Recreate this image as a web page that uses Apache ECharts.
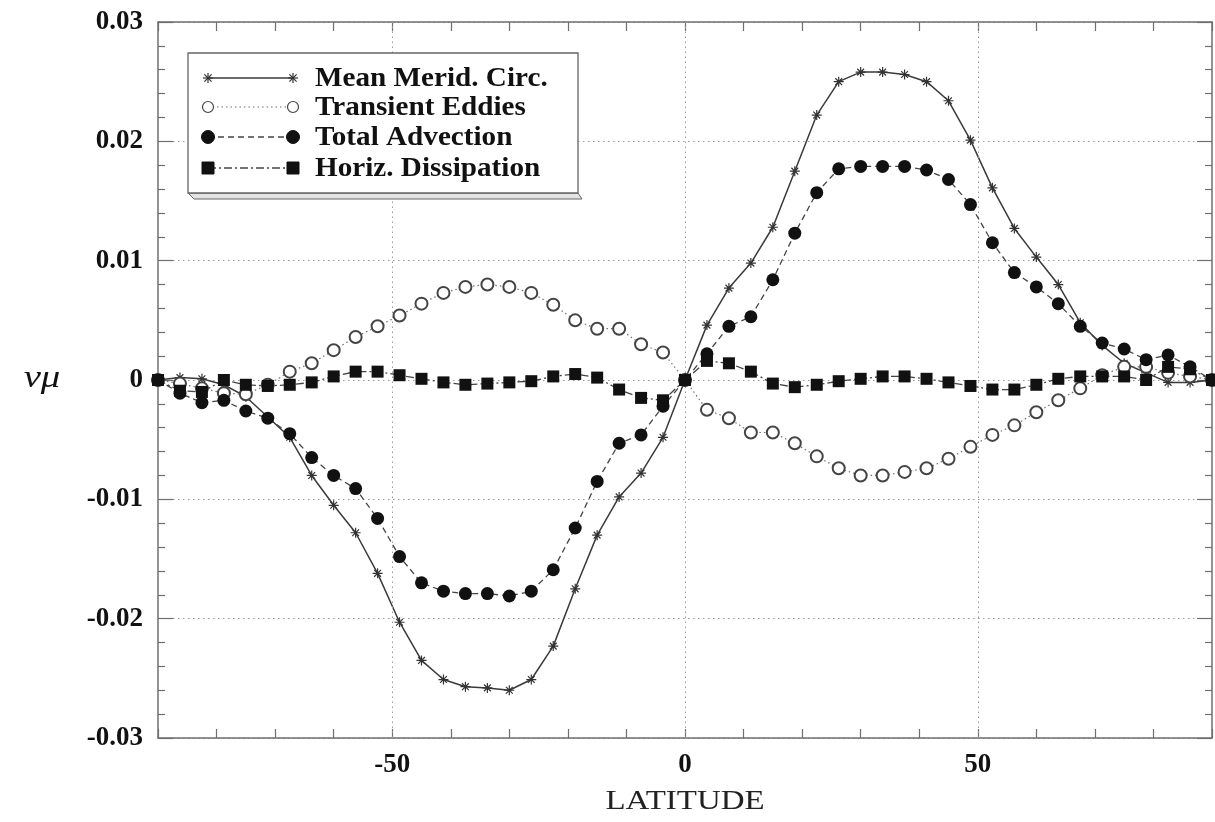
<!DOCTYPE html>
<html>
<head>
<meta charset="utf-8">
<script src="https://cdn.jsdelivr.net/npm/echarts@6/dist/echarts.min.js"></script>
<style>
  html, body { margin: 0; padding: 0; background: #ffffff; }
  #chart { width: 1215px; height: 822px; }
</style>
</head>
<body>
<div id="chart"></div>
<script>
// Latitude grid (degrees), 3.75 degree spacing
const latitude = [
  -90, -86.25, -82.5, -78.75, -75, -71.25, -67.5, -63.75, -60, -56.25,
  -52.5, -48.75, -45, -41.25, -37.5, -33.75, -30, -26.25, -22.5, -18.75,
  -15, -11.25, -7.5, -3.75, 0, 3.75, 7.5, 11.25, 15, 18.75,
  22.5, 26.25, 30, 33.75, 37.5, 41.25, 45, 48.75, 52.5, 56.25,
  60, 63.75, 67.5, 71.25, 75, 78.75, 82.5, 86.25, 90
];

// Budget terms of v*mu at each latitude
const meanMeridCirc = [
  0, 0.0002, 0.0001, -0.0004, -0.0014, -0.0031, -0.0048, -0.0080, -0.0105, -0.0128,
  -0.0162, -0.0203, -0.0235, -0.0251, -0.0257, -0.0258, -0.0260, -0.0251, -0.0223, -0.0175,
  -0.0130, -0.0098, -0.0078, -0.0048, 0, 0.0046, 0.0077, 0.0098, 0.0128, 0.0175,
  0.0222, 0.0250, 0.0258, 0.0258, 0.0256, 0.0250, 0.0234, 0.0201, 0.0161, 0.0127,
  0.0103, 0.0080, 0.0048, 0.0029, 0.0014, 0.0006, -0.0002, -0.0002, 0
];

const transientEddies = [
  0, -0.0003, -0.0007, -0.0011, -0.0012, -0.0004, 0.0007, 0.0014, 0.0025, 0.0036,
  0.0045, 0.0054, 0.0064, 0.0073, 0.0078, 0.0080, 0.0078, 0.0073, 0.0063, 0.0050,
  0.0043, 0.0043, 0.0030, 0.0023, 0, -0.0025, -0.0032, -0.0044, -0.0044, -0.0053,
  -0.0064, -0.0074, -0.0080, -0.0080, -0.0077, -0.0074, -0.0066, -0.0056, -0.0046, -0.0038,
  -0.0027, -0.0017, -0.0007, 0.0004, 0.0011, 0.0011, 0.0006, 0.0003, 0
];

const totalAdvection = [
  0, -0.0011, -0.0019, -0.0017, -0.0026, -0.0032, -0.0045, -0.0065, -0.0080, -0.0091,
  -0.0116, -0.0148, -0.0170, -0.0177, -0.0179, -0.0179, -0.0181, -0.0177, -0.0159, -0.0124,
  -0.0085, -0.0053, -0.0046, -0.0022, 0, 0.0022, 0.0045, 0.0053, 0.0084, 0.0123,
  0.0157, 0.0177, 0.0179, 0.0179, 0.0179, 0.0176, 0.0168, 0.0147, 0.0115, 0.0090,
  0.0078, 0.0064, 0.0045, 0.0031, 0.0026, 0.0017, 0.0021, 0.0011, 0
];

const horizDissipation = [
  0, -0.0009, -0.0010, 0.0000, -0.0004, -0.0005, -0.0004, -0.0002, 0.0003, 0.0007,
  0.0007, 0.0004, 0.0001, -0.0002, -0.0004, -0.0003, -0.0002, -0.0001, 0.0003, 0.0005,
  0.0002, -0.0008, -0.0015, -0.0017, 0, 0.0016, 0.0014, 0.0007, -0.0003, -0.0006,
  -0.0004, -0.0001, 0.0001, 0.0003, 0.0003, 0.0001, -0.0002, -0.0005, -0.0008, -0.0008,
  -0.0004, 0.0001, 0.0003, 0.0003, 0.0003, 0.0000, 0.0011, 0.0009, 0
];

// Axis labels
const xTickValues = [-50, 0, 50];
const xTickLabels = ['-50', '0', '50'];
const yTickLabels = ['-0.03', '-0.02', '-0.01', '0', '0.01', '0.02', '0.03'];
const xTitle = 'LATITUDE';
const yTitle = 'vμ';
const seriesNames = ['Mean Merid. Circ.', 'Transient Eddies', 'Total Advection', 'Horiz. Dissipation'];

const pairs = (ys) => latitude.map((x, i) => [x, ys[i]]);

const ASTERISK = 'M0,5L10,5M5,0L5,10M1.6,1.6L8.4,8.4M8.4,1.6L1.6,8.4';
const FRAME = '#6f6f6f';
const GRID_LINE = '#9a9a9a';
const serifBold = 'bold 27px "Liberation Serif", "Times New Roman", serif';

const lineStyles = [
  { color: '#3a3a3a', width: 1.5, type: 'solid' },
  { color: '#707070', width: 1.2, type: [1.5, 3] },
  { color: '#444444', width: 1.3, type: [6, 4] },
  { color: '#444444', width: 1.3, type: [8, 3, 2, 3] }
];

const chart = echarts.init(document.getElementById('chart'), null, { renderer: 'canvas' });

const gridBox = { left: 158, top: 22, width: 1054, height: 716 };

const xAxisBase = {
  type: 'value', min: -90, max: 90, interval: 10,
  axisLine: { show: true, onZero: false, lineStyle: { color: FRAME, width: 1.5 } },
  axisTick: { show: true, inside: true, length: 9, lineStyle: { color: FRAME, width: 1.2 } },
  splitLine: { show: false }
};
const yAxisBase = {
  type: 'value', min: -0.03, max: 0.03, interval: 0.01,
  axisLine: { show: true, onZero: false, lineStyle: { color: FRAME, width: 1.5 } },
  axisTick: { show: true, inside: true, length: 15, lineStyle: { color: FRAME, width: 1.2 } },
  minorTick: { show: true, splitNumber: 5, length: 7, lineStyle: { color: FRAME, width: 1.2 } }
};

// Legend block drawn as graphics (symbol - line - symbol, then label)
const legendRows = [78, 107, 137, 168];
const legendX0 = 208, legendX1 = 293, legendTextX = 315;

function legendSymbol(kind, cx, cy) {
  if (kind === 0) {
    const s = 5, d = 3.6;
    const seg = (x1, y1, x2, y2) => ({ type: 'line', z: 103, shape: { x1: x1, y1: y1, x2: x2, y2: y2 },
      style: { stroke: '#333', lineWidth: 1.2 } });
    return [seg(cx - s, cy, cx + s, cy), seg(cx, cy - s, cx, cy + s),
      seg(cx - d, cy - d, cx + d, cy + d), seg(cx + d, cy - d, cx - d, cy + d)];
  }
  if (kind === 1) {
    return [{ type: 'circle', z: 103, shape: { cx: cx, cy: cy, r: 5.5 }, style: { fill: '#fff', stroke: '#444', lineWidth: 1.2 } }];
  }
  if (kind === 2) {
    return [{ type: 'circle', z: 103, shape: { cx: cx, cy: cy, r: 6.5 }, style: { fill: '#111', stroke: '#111', lineWidth: 1 } }];
  }
  return [{ type: 'rect', z: 103, shape: { x: cx - 6, y: cy - 6, width: 12, height: 12 }, style: { fill: '#111', stroke: '#111', lineWidth: 1 } }];
}

const legendGraphics = [
  { type: 'polygon', shape: { points: [[188, 193], [194, 199], [582, 199], [578, 193]] },
    style: { fill: '#e4e4e4', stroke: '#666', lineWidth: 1 }, z: 100 },
  { type: 'rect', shape: { x: 188, y: 53, width: 390, height: 140 },
    style: { fill: '#ffffff', stroke: '#666', lineWidth: 1.3 }, z: 100 }
];
seriesNames.forEach((name, i) => {
  const cy = legendRows[i];
  const ls = lineStyles[i];
  legendGraphics.push({ type: 'line', shape: { x1: legendX0, y1: cy, x2: legendX1, y2: cy },
    style: { stroke: ls.color, lineWidth: ls.width, lineDash: Array.isArray(ls.type) ? ls.type : null }, z: 101 });
  legendGraphics.push(...legendSymbol(i, legendX0, cy));
  legendGraphics.push(...legendSymbol(i, legendX1, cy));
  legendGraphics.push({ type: 'text', x: legendTextX, y: cy + 1, scaleX: 1.08, z: 102,
    style: { text: name, x: 0, y: 0, font: serifBold, fill: '#111', verticalAlign: 'middle', align: 'left' } });
});

// Axis titles (slightly widened serif lettering)
legendGraphics.push({ type: 'text', x: 685, y: 802, scaleX: 1.22, z: 50,
  style: { text: xTitle, x: 0, y: 0, font: '27px "Liberation Serif", serif', fill: '#222', align: 'center', verticalAlign: 'middle' } });
legendGraphics.push({ type: 'text', x: 42, y: 379, scaleX: 1.25, z: 50,
  style: { text: yTitle, x: 0, y: 0, font: 'italic 31px "Liberation Serif", serif', fill: '#111', align: 'center', verticalAlign: 'middle' } });

const symbolDefs = [
  { symbol: 'path://' + ASTERISK, symbolSize: 10, itemStyle: { color: '#333', borderColor: '#333', borderWidth: 1.2 } },
  { symbol: 'emptyCircle', symbolSize: 12, itemStyle: { color: '#444', borderWidth: 1.3 } },
  { symbol: 'circle', symbolSize: 13, itemStyle: { color: '#111' } },
  { symbol: 'rect', symbolSize: 12, itemStyle: { color: '#111' } }
];

const dataSets = [meanMeridCirc, transientEddies, totalAdvection, horizDissipation];

const series = dataSets.map((ys, i) => Object.assign({
  name: seriesNames[i],
  type: 'line',
  data: pairs(ys),
  showAllSymbol: true,
  animation: false,
  lineStyle: lineStyles[i],
  z: 3 + i
}, symbolDefs[i]));

// Vertical grid lines at the labelled latitudes
series[0].markLine = {
  silent: true, symbol: 'none', animation: false,
  label: { show: false },
  lineStyle: { color: GRID_LINE, type: [1.5, 3.5], width: 1 },
  data: xTickValues.map(v => ({ xAxis: v }))
};

chart.setOption({
  backgroundColor: '#ffffff',
  animation: false,
  grid: Object.assign({ show: false, containLabel: false }, gridBox),
  xAxis: [
    Object.assign({}, xAxisBase, {
      position: 'bottom',
      axisLabel: {
        show: true, margin: 14, color: '#111',
        fontFamily: '"Liberation Serif", serif', fontWeight: 'bold', fontSize: 27,
        formatter: (v) => { const k = xTickValues.indexOf(Math.round(v)); return k >= 0 ? xTickLabels[k] : ''; }
      }
    }),
    Object.assign({}, xAxisBase, { position: 'top', axisLabel: { show: false } })
  ],
  yAxis: [
    Object.assign({}, yAxisBase, {
      position: 'left',
      axisLabel: {
        show: true, margin: 15, color: '#111',
        fontFamily: '"Liberation Serif", serif', fontWeight: 'bold', fontSize: 27,
        formatter: (v, idx) => yTickLabels[idx]
      },
      splitLine: { show: true, lineStyle: { color: GRID_LINE, type: [1.5, 3.5], width: 1 } }
    }),
    Object.assign({}, yAxisBase, { position: 'right', axisLabel: { show: false }, splitLine: { show: false } })
  ],
  series: series,
  graphic: legendGraphics
});
</script>
</body>
</html>
